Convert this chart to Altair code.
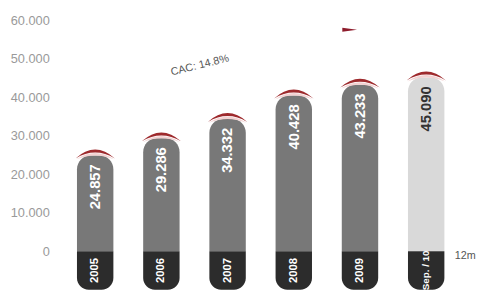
import altair as alt
import pandas as pd

categories = ["2005", "2006", "2007", "2008", "2009", "Sep. / 10"]
values = [24857, 29286, 34332, 40428, 43233, 45090]
value_labels = ["24.857", "29.286", "34.332", "40.428", "43.233", "45.090"]
y_ticks = [0, 10000, 20000, 30000, 40000, 50000, 60000]
cagr_label = ["CAC: 14.8%"]
cagr_cat = ["2007"]
cagr_y = [50000]
arrow_cat = ["2009"]
arrow_y = [57500]
note_label = ["12m"]
note_cat = ["Sep. / 10"]
BASE = -10000
PARTIAL = "Sep. / 10"

df = pd.DataFrame({"cat": categories, "value": values, "label": value_labels})
df["zero"] = 0
df["base"] = BASE
df["mid"] = BASE / 2

ann = pd.DataFrame({"cat": cagr_cat, "y": cagr_y, "label": cagr_label})
arr = pd.DataFrame({"cat": arrow_cat, "y": arrow_y})
note = pd.DataFrame({"cat": note_cat, "label": note_label})
note["y"] = 0

is_partial = alt.datum.cat == PARTIAL

xenc = alt.X("cat:N", sort=categories,
             scale=alt.Scale(domain=categories, paddingInner=0.45, paddingOuter=0.225),
             axis=None)
yscale = alt.Scale(domain=[-10500, 62000], nice=False, zero=False)
yaxis = alt.Axis(values=y_ticks, grid=False, domain=False, ticks=False,
                 labelPadding=13, labelFontSize=13, labelColor="#9a9a9a",
                 labelFont="Liberation Sans", title=None,
                 labelExpr="replace(format(datum.value, ','), ',', '.')")

def Y(field):
    return alt.Y(field, type="quantitative", scale=yscale, axis=yaxis, title=None)

base = alt.Chart(df)

grey = base.mark_bar(cornerRadiusTopLeft=14, cornerRadiusTopRight=14).encode(
    x=xenc, y=Y("value"), y2="zero",
    color=alt.condition(is_partial, alt.value("#d9d9d9"), alt.value("#787878")))

dark = base.mark_bar(color="#2c2c2c", cornerRadiusBottomLeft=12,
                     cornerRadiusBottomRight=12).encode(
    x=xenc, y=Y("zero"), y2="base")

crescent_path = "M -1 0.15 Q 0 -0.75 1 0.15 Q 0 -0.45 -1 0.15 Z"
fringe_path = "M -0.95 0.2 Q 0 -0.45 0.95 0.2 Q 0 -0.2 -0.95 0.2 Z"

fringe = base.mark_point(shape=fringe_path, size=1600, filled=True,
                         fill="#f3d2d2", strokeWidth=0, opacity=1).encode(
    x=xenc, y=Y("value"))
crescent = base.mark_point(shape=crescent_path, size=1600, filled=True,
                           fill="#9e2a2d", strokeWidth=0, opacity=1).encode(
    x=xenc, y=Y("value"))

vlabels = base.mark_text(angle=270, align="right", baseline="middle", dx=-9,
                         fontSize=15, fontWeight="bold",
                         font="Liberation Sans").encode(
    x=xenc, y=Y("value"), text="label:N",
    color=alt.condition(is_partial, alt.value("#333333"), alt.value("#ffffff")))

ylabels = base.mark_text(angle=270, align="center", baseline="middle",
                         fontWeight="bold", color="#ffffff",
                         font="Liberation Sans").encode(
    x=xenc, y=Y("mid"), text="cat:N",
    size=alt.condition(is_partial, alt.value(10), alt.value(11.5)))

cagr = alt.Chart(ann).mark_text(angle=346, align="center", baseline="middle",
                                dx=-29, fontSize=11, color="#555555",
                                font="Liberation Sans").encode(
    x=xenc, y=Y("y"), text="label:N")

wedge_path = "M -0.9 -0.1 L -0.15 0.0 L -0.9 0.1 Z"
arrow = alt.Chart(arr).mark_point(shape=wedge_path, size=1600, filled=True,
                                  fill="#8e1c2c", strokeWidth=0, opacity=1).encode(
    x=xenc, y=Y("y"))

note_t = alt.Chart(note).mark_text(align="left", baseline="middle", dx=29, dy=5,
                                   fontSize=11, color="#555555",
                                   font="Liberation Sans").encode(
    x=xenc, y=Y("y"), text="label:N")

chart = alt.layer(grey, dark, fringe, crescent, vlabels, ylabels, cagr, arrow, note_t).properties(
    width=404, height=284,
    padding={"left": 55, "top": 2, "right": 17, "bottom": 1},
    autosize=alt.AutoSizeParams(type="none"),
    background="#ffffff",
).configure_view(stroke=None)

chart.save("out.html", embed_options={"renderer": "svg", "actions": False})
